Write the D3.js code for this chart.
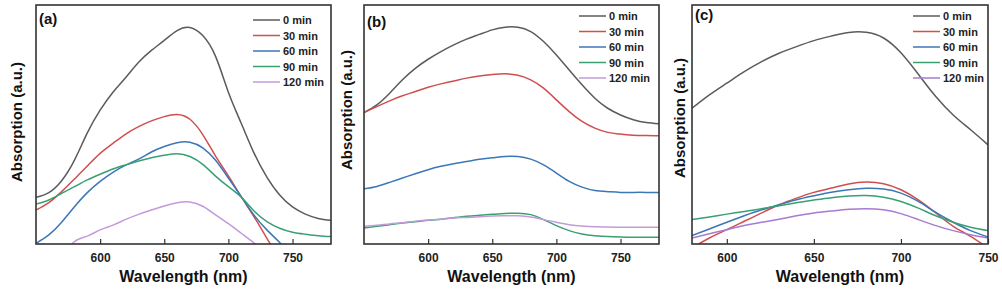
<!DOCTYPE html>
<html>
<head>
<meta charset="utf-8">
<script src="https://cdn.jsdelivr.net/npm/d3@7"></script>
<style>
  body { margin: 0; background: #fff; }
  svg { font-family: "Liberation Sans", Arial, sans-serif; font-weight: bold; }
</style>
</head>
<body>
<div id="chart"></div>
<script>
// wavelength grids (nm)
let wlAB = [550, 560, 570, 580, 590, 600, 610, 620, 630, 640, 650, 660, 670, 680, 690, 700, 710, 720, 730, 740, 750, 760, 770, 780];
let wlC = [580, 590, 600, 610, 620, 630, 640, 650, 660, 670, 680, 690, 700, 710, 720, 730, 740, 750];

let legendLabels = ["0 min", "30 min", "60 min", "90 min", "120 min"];
let tickValues = [600, 650, 700, 750];

// panel (a)
let a0 = [0.195, 0.215, 0.265, 0.351, 0.465, 0.560, 0.635, 0.697, 0.760, 0.810, 0.852, 0.893, 0.906, 0.872, 0.785, 0.635, 0.505, 0.380, 0.280, 0.205, 0.155, 0.125, 0.107, 0.099];
let a30 = [0.142, 0.173, 0.219, 0.272, 0.326, 0.379, 0.421, 0.460, 0.491, 0.515, 0.533, 0.542, 0.522, 0.458, 0.368, 0.285, 0.198, 0.114, 0.024, -0.06, -0.14, -0.22, -0.30, -0.38];
let a60 = [0.003, 0.038, 0.091, 0.156, 0.215, 0.262, 0.300, 0.330, 0.355, 0.385, 0.408, 0.424, 0.426, 0.402, 0.350, 0.276, 0.198, 0.121, 0.059, 0.006, -0.05, -0.10, -0.15, -0.20];
let a90 = [0.167, 0.184, 0.212, 0.240, 0.268, 0.292, 0.314, 0.331, 0.347, 0.361, 0.371, 0.378, 0.366, 0.333, 0.284, 0.240, 0.196, 0.138, 0.094, 0.066, 0.049, 0.041, 0.035, 0.031];
let a120 = [-0.15, -0.10, -0.05, 0.010, 0.033, 0.059, 0.079, 0.103, 0.124, 0.142, 0.159, 0.173, 0.176, 0.158, 0.122, 0.085, 0.045, 0.004, -0.04, -0.09, -0.14, -0.19, -0.24, -0.29];

// panel (b)
let b0 = [0.550, 0.582, 0.631, 0.687, 0.735, 0.773, 0.805, 0.833, 0.857, 0.877, 0.896, 0.907, 0.907, 0.889, 0.847, 0.791, 0.728, 0.666, 0.610, 0.568, 0.540, 0.520, 0.508, 0.503];
let b30 = [0.550, 0.575, 0.599, 0.620, 0.638, 0.656, 0.670, 0.682, 0.694, 0.703, 0.709, 0.712, 0.706, 0.687, 0.652, 0.603, 0.554, 0.513, 0.485, 0.467, 0.460, 0.455, 0.454, 0.453];
let b60 = [0.231, 0.241, 0.258, 0.276, 0.294, 0.311, 0.325, 0.336, 0.345, 0.355, 0.361, 0.366, 0.366, 0.355, 0.331, 0.297, 0.262, 0.238, 0.224, 0.219, 0.216, 0.216, 0.216, 0.216];
let b90 = [0.067, 0.074, 0.081, 0.088, 0.093, 0.099, 0.104, 0.110, 0.116, 0.120, 0.124, 0.128, 0.129, 0.123, 0.102, 0.077, 0.056, 0.042, 0.035, 0.031, 0.029, 0.028, 0.028, 0.028];
let b120 = [0.074, 0.078, 0.084, 0.089, 0.095, 0.100, 0.104, 0.109, 0.111, 0.114, 0.117, 0.118, 0.118, 0.113, 0.102, 0.091, 0.081, 0.075, 0.072, 0.071, 0.070, 0.070, 0.070, 0.070];

// panel (c)
let c0 = [0.568, 0.624, 0.673, 0.721, 0.763, 0.798, 0.826, 0.851, 0.870, 0.885, 0.886, 0.862, 0.800, 0.710, 0.617, 0.540, 0.478, 0.415];
let c30 = [-0.017, 0.025, 0.060, 0.095, 0.130, 0.164, 0.192, 0.216, 0.234, 0.251, 0.259, 0.252, 0.227, 0.185, 0.130, 0.074, 0.032, -0.017];
let c60 = [0.035, 0.063, 0.091, 0.118, 0.143, 0.164, 0.185, 0.202, 0.217, 0.227, 0.233, 0.230, 0.213, 0.178, 0.132, 0.091, 0.056, 0.029];
let c90 = [0.102, 0.113, 0.125, 0.136, 0.148, 0.160, 0.173, 0.184, 0.194, 0.201, 0.203, 0.196, 0.178, 0.150, 0.118, 0.091, 0.070, 0.056];
let c120 = [0.025, 0.043, 0.060, 0.077, 0.091, 0.104, 0.118, 0.130, 0.138, 0.145, 0.148, 0.143, 0.127, 0.102, 0.077, 0.056, 0.039, 0.025];

let colors = ["#5b5b5b", "#d04e4e", "#3b77b6", "#3a9f72", "#c39bda"];
let colorsC = ["#5b5b5b", "#d04e4e", "#3b77b6", "#3a9f72", "#a77bd0"];

let panels = [
    { tag: "(a)", left: 36, right: 331, xDomain: [550, 780], wl: wlAB, series: [a0, a30, a60, a90, a120], colors: colors,
      legX: 253, legY: 20, tagY: 24, ylabY: 122, ylabX: 17 },
    { tag: "(b)", left: 364, right: 659, xDomain: [550, 780], wl: wlAB, series: [b0, b30, b60, b90, b120], colors: colors,
      legX: 579, legY: 16, tagY: 27, ylabY: 110, ylabX: 347 },
    { tag: "(c)", left: 692, right: 988, xDomain: [580, 750], wl: wlC, series: [c0, c30, c60, c90, c120], colors: colorsC,
      legX: 913, legY: 16, tagY: 20, ylabY: 118, ylabX: 680 }
];

let plotTop = 5, plotBottom = 244;

let svg = d3.select("#chart")
    .append("svg")
    .attr("width", 1002)
    .attr("height", 293);

panels.forEach(function (p, i) {
    let x = d3.scaleLinear().domain(p.xDomain).range([p.left, p.right]);
    let y = d3.scaleLinear().domain([0, 1]).range([plotBottom, plotTop]);

    svg.append("clipPath")
        .attr("id", "clip" + i)
        .append("rect")
        .attr("x", p.left)
        .attr("y", plotTop)
        .attr("width", p.right - p.left)
        .attr("height", plotBottom - plotTop);

    let line = d3.line()
        .x(d => x(d[0]))
        .y(d => y(d[1]))
        .curve(d3.curveNatural);

    let g = svg.append("g").attr("clip-path", `url(#clip${i})`);
    p.series.forEach(function (s, k) {
        g.append("path")
            .datum(p.wl.map((w, j) => [w, s[j]]))
            .attr("d", line)
            .attr("fill", "none")
            .attr("stroke", p.colors[k])
            .attr("stroke-width", 1.5);
    });

    // bottom axis with inward ticks
    let axis = svg.append("g")
        .attr("transform", `translate(0, ${plotBottom})`)
        .call(d3.axisBottom(x).tickValues(tickValues).tickSizeInner(-5).tickSizeOuter(0).tickPadding(9));
    axis.select(".domain").remove();
    axis.selectAll("line").attr("stroke", "#333").attr("stroke-width", 1.2);
    axis.selectAll("text")
        .attr("font-size", "12px")
        .attr("font-weight", "bold")
        .attr("font-family", "'Liberation Sans', Arial, sans-serif")
        .attr("fill", "#222");

    // frame
    svg.append("rect")
        .attr("x", p.left)
        .attr("y", plotTop)
        .attr("width", p.right - p.left)
        .attr("height", plotBottom - plotTop)
        .attr("fill", "none")
        .attr("stroke", "#333")
        .attr("stroke-width", 1.6);

    svg.append("text")
        .attr("x", p.left + 3)
        .attr("y", p.tagY)
        .attr("font-size", "15px")
        .attr("fill", "#111")
        .text(p.tag);

    // legend
    legendLabels.forEach(function (lab, k) {
        let ly = p.legY + k * 15.5;
        svg.append("line")
            .attr("x1", p.legX)
            .attr("x2", p.legX + 27)
            .attr("y1", ly)
            .attr("y2", ly)
            .attr("stroke", p.colors[k])
            .attr("stroke-width", 1.5);
        svg.append("text")
            .attr("x", p.legX + 30)
            .attr("y", ly + 4)
            .attr("font-size", "11px")
            .attr("fill", "#222")
            .text(lab);
    });

    svg.append("text")
        .attr("x", (p.left + p.right) / 2)
        .attr("y", 282)
        .attr("text-anchor", "middle")
        .attr("font-size", "16px")
        .attr("fill", "#111")
        .text("Wavelength (nm)");

    svg.append("text")
        .attr("transform", `translate(${p.ylabX + 5}, ${p.ylabY}) rotate(-90)`)
        .attr("text-anchor", "middle")
        .attr("font-size", "15px")
        .attr("fill", "#111")
        .text("Absorption (a.u.)");
});
</script>
</body>
</html>
